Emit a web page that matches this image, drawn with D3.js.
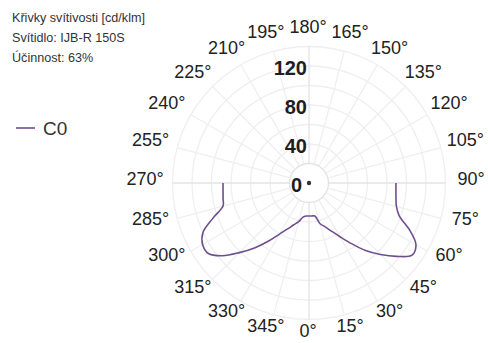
<!DOCTYPE html>
<html>
<head>
<meta charset="utf-8">
<script src="https://cdn.jsdelivr.net/npm/d3@7"></script>
<style>
  body { margin: 0; background: #fff; }
  svg { display: block; font-family: "Liberation Sans", Arial, sans-serif; }
</style>
</head>
<body>
<div id="chart"></div>
<script>
// Header lines
var titleLines = ["Křivky svítivosti [cd/klm]", "Svítidlo: IJB-R 150S", "Účinnost: 63%"];
var seriesName = "C0";

// Radial ticks (cd/klm) and angle labels (deg)
var radialTicks = [0, 40, 80, 120];
var gridRings = [20, 40, 60, 80, 100, 120, 140];
var angleTicks = [0, 15, 30, 45, 60, 75, 90, 105, 120, 135, 150, 165,
                  180, 195, 210, 225, 240, 255, 270, 285, 300, 315, 330, 345];

// C0 curve: gamma angle (deg) and intensity (cd/klm)
var curveAngles = [270, 275, 280, 285, 290, 295, 300, 305, 310, 315, 320, 325, 330, 335, 340, 345, 350, 355,
                   0, 5, 10, 15, 20, 25, 30, 35, 40, 45, 50, 55, 60, 65, 70, 75, 80, 85, 90];
var curveValues = [88.2, 88.5, 89.5, 91.3, 104.6, 120, 126, 126, 116, 101, 87, 73, 60.5, 52, 45.6, 41, 35.5, 34,
                   33.8, 34, 34.4, 43, 47.7, 54.4, 63.6, 75.9, 90.3, 103.6, 117, 129, 126.7, 113.8, 98.5, 92.8, 90.6, 89.5, 89.2];

var width = 488, height = 343;
var cx = 309, cy = 183;

var svg = d3.select("#chart")
  .append("svg")
    .attr("width", width)
    .attr("height", height);

var rScale = d3.scaleLinear().domain([0, 140]).range([0, 136.5]);
var toRad = function (d) { return Math.PI - d * Math.PI / 180; };

var plot = svg.append("g")
    .attr("transform", "translate(" + cx + "," + cy + ")");

// grid rings
plot.selectAll("circle.ring")
    .data(gridRings)
  .enter().append("circle")
    .attr("class", "ring")
    .attr("r", function (d) { return rScale(d); })
    .attr("fill", "none")
    .attr("stroke", function (d) { return d === 20 ? "#e2e2e2" : "#efefef"; })
    .attr("stroke-width", 1.3);

// spokes
plot.selectAll("line.spoke")
    .data(angleTicks)
  .enter().append("line")
    .attr("class", "spoke")
    .attr("x1", function (d) { return rScale(20) * Math.sin(toRad(d)); })
    .attr("y1", function (d) { return -rScale(20) * Math.cos(toRad(d)); })
    .attr("x2", function (d) { return rScale(140) * Math.sin(toRad(d)); })
    .attr("y2", function (d) { return -rScale(140) * Math.cos(toRad(d)); })
    .attr("stroke", function (d) { return d % 90 === 0 ? "#e3e3e3" : "#efefef"; })
    .attr("stroke-width", 1.3);

// curve
var line = d3.lineRadial()
    .angle(function (d, i) { return toRad(curveAngles[i]); })
    .radius(function (d) { return rScale(d); })
    .curve(d3.curveCatmullRom);

plot.append("path")
    .datum(curveValues)
    .attr("d", line)
    .attr("fill", "none")
    .attr("stroke", "#6e4f8e")
    .attr("stroke-width", 1.6);

// center dot
plot.append("circle")
    .attr("r", 2.2)
    .attr("fill", "#333");

// radial labels
plot.selectAll("text.rlabel")
    .data(radialTicks)
  .enter().append("text")
    .attr("class", "rlabel")
    .attr("x", function (d) { return d === 0 ? -7 : -2; })
    .attr("y", function (d) { return -rScale(d) + 9; })
    .attr("text-anchor", "end")
    .attr("font-size", "20px")
    .attr("font-weight", "bold")
    .attr("fill", "#1e1e1e")
    .text(function (d) { return d; });

// angle labels
plot.selectAll("text.alabel")
    .data(angleTicks)
  .enter().append("text")
    .attr("class", "alabel")
    .attr("x", function (d) { return -1 + 163 * Math.sin(d * Math.PI / 180); })
    .attr("y", function (d) { return -4 + 152 * Math.cos(d * Math.PI / 180); })
    .attr("dy", "0.35em")
    .attr("text-anchor", "middle")
    .attr("font-size", "18px")
    .attr("fill", "#222")
    .text(function (d) { return d + "°"; });

// header
svg.selectAll("text.title")
    .data(titleLines)
  .enter().append("text")
    .attr("class", "title")
    .attr("x", 12)
    .attr("y", function (d, i) { return 22 + i * 20; })
    .attr("font-size", "12.6px")
    .attr("fill", "#333")
    .text(function (d) { return d; });

// legend
var legend = svg.append("g").attr("transform", "translate(16,128)");
legend.append("line")
    .attr("x1", 0).attr("x2", 19)
    .attr("stroke", "#6e4f8e")
    .attr("stroke-width", 1.6);
legend.append("text")
    .attr("x", 27)
    .attr("dy", "0.35em")
    .attr("font-size", "19px")
    .attr("fill", "#333")
    .text(seriesName);
</script>
</body>
</html>
